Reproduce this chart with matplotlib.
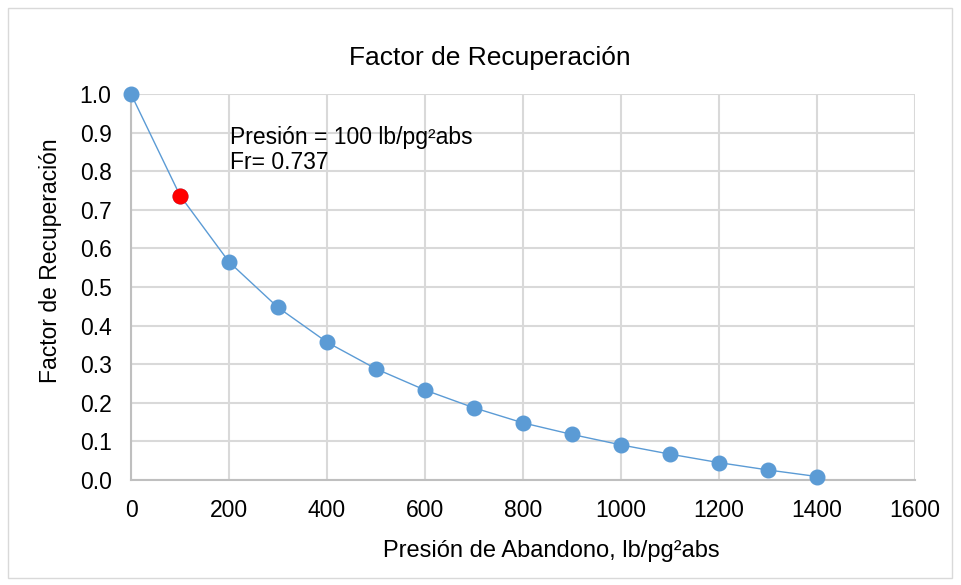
import matplotlib.pyplot as plt
from matplotlib.patches import Rectangle

plt.rcParams['font.family'] = ['Liberation Sans', 'DejaVu Sans']

# datos
presion = [0, 100, 200, 300, 400, 500, 600, 700, 800, 900, 1000, 1100, 1200, 1300, 1400]
fr = [1.0, 0.737, 0.565, 0.447, 0.357, 0.288, 0.233, 0.187, 0.148, 0.118, 0.091, 0.067, 0.045, 0.026, 0.009]
p_sel = 100
fr_sel = 0.737

azul = '#5b9bd5'

fig = plt.figure(figsize=(9.61, 5.85), dpi=100)
ax = fig.add_axes([131/961, 1-480/585, (915-131)/961, (480-94)/585])

ax.plot(presion, fr, color=azul, lw=1.0, marker='o', ms=10.5, mfc=azul, mec=azul,
        zorder=3, clip_on=False)
ax.plot([p_sel], [fr_sel], 'o', color='red', ms=10.5, zorder=4, clip_on=False)

ax.set_xlim(0, 1600)
ax.set_ylim(0, 1.0)
ax.set_xticks(range(0, 1601, 200))
ax.set_yticks([i/10 for i in range(11)])
ax.set_yticklabels(['%.1f' % (i/10) for i in range(11)])
ax.grid(True, color='#d9d9d9', lw=1.5)
ax.set_axisbelow(True)
for s in ['top', 'right']:
    ax.spines[s].set_visible(False)
for s in ['left', 'bottom']:
    ax.spines[s].set_color('#bfbfbf')
    ax.spines[s].set_linewidth(1.5)
ax.tick_params(length=0, labelsize=16.5, pad=14, colors='black')
ax.tick_params(axis='y', pad=14)

fig.text(490/961, 1-58/585, 'Factor de Recuperación', fontsize=19, ha='center', va='center')
ax.set_xlabel('Presión de Abandono, lb/pg²abs', fontsize=17)
ax.xaxis.set_label_coords((551-131)/784, -0.155)
ax.set_ylabel('Factor de Recuperación', fontsize=16.5)
ax.yaxis.set_label_coords(-(131-62)/784, (480-261)/386)

ax.text(203, 0.855, 'Presión = 100 lb/pg²abs\nFr= 0.737', fontsize=16.5,
        va='center', ha='left', linespacing=1.15)

# borde del area del grafico
fig.patches.append(Rectangle((8/961, 7/585), 944/961, 570/585, transform=fig.transFigure,
                             fill=False, edgecolor='#d9d9d9', lw=1))

plt.savefig('out.png', dpi=100)
